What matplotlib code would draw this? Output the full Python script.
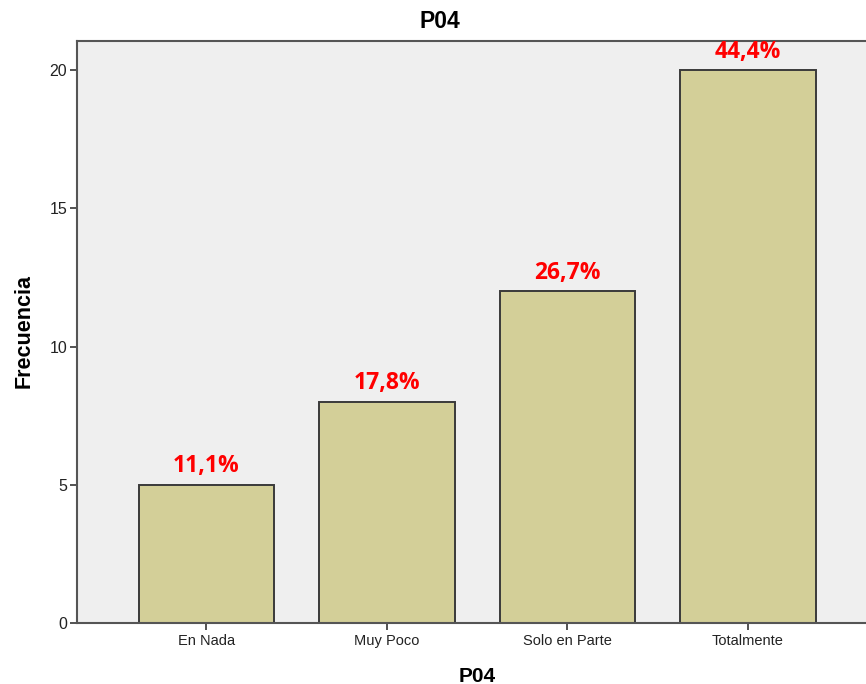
import numpy as np
import matplotlib.pyplot as plt

categorias = ["En Nada", "Muy Poco", "Solo en Parte", "Totalmente"]
frecuencias = [5, 8, 12, 20]
total = sum(frecuencias)

fig = plt.figure(figsize=(8.66, 6.84), dpi=100)
ax = fig.add_axes([77 / 866, 61 / 684, 1 - 77 / 866, (623 - 41) / 684])
ax.set_facecolor("#efefef")

x = np.arange(len(categorias))
ax.bar(x, frecuencias, width=0.75, color="#d3cf98", edgecolor="#3a3a3a",
       linewidth=1.4, zorder=2)

# porcentajes sobre cada barra
for xi, f in zip(x, frecuencias):
    pct = f"{100 * f / total:.1f}%".replace(".", ",")
    ax.text(xi, f + 0.45, pct, ha="center", va="baseline", color="red",
            fontsize=16.5, fontweight="bold", family="Open Sans", zorder=5,
            clip_on=False)

ax.set_xlim(-0.717, 3.654)
ax.set_ylim(0, 21.05)
ax.set_yticks([0, 5, 10, 15, 20])
ax.set_xticks(x)
ax.set_xticklabels(categorias)

for s in ["left", "bottom", "top"]:
    ax.spines[s].set_color("#555555")
    ax.spines[s].set_linewidth(1.5)
ax.spines["right"].set_visible(False)

ax.tick_params(axis="both", direction="out", length=5, width=1.3,
               color="#444444", labelcolor="#222222", pad=3)
ax.tick_params(axis="x", labelsize=10.5)
ax.tick_params(axis="y", labelsize=11.5, pad=2)
for lab in ax.get_xticklabels() + ax.get_yticklabels():
    lab.set_family("Liberation Sans")

fig.text(440 / 866, 1 - 22 / 684, "P04", ha="center", va="center",
         fontsize=16.5, fontweight="bold", family="Liberation Sans")
fig.text(477 / 866, 1 - 676 / 684, "P04", ha="center", va="center",
         fontsize=15, fontweight="bold", family="Liberation Sans")
fig.text(24 / 866, 1 - 331 / 684, "Frecuencia", ha="center", va="center",
         rotation=90, fontsize=15.5, fontweight="bold", family="Liberation Sans")

fig.savefig("out.png", dpi=100)
